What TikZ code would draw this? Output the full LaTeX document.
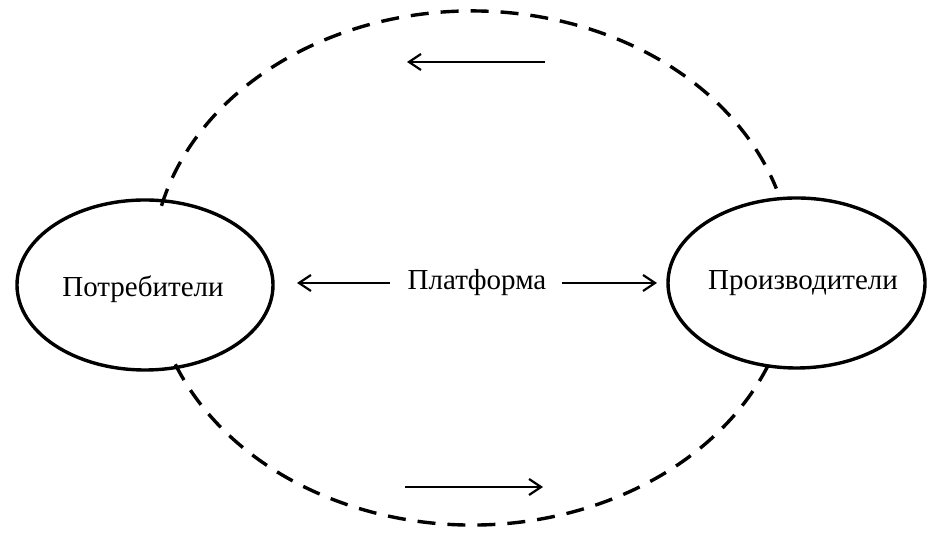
\documentclass[tikz,border=0pt]{standalone}
\usepackage{fontspec}
\setmainfont{Liberation Serif}
\usetikzlibrary{arrows.meta}
\begin{document}
\begin{tikzpicture}[x=0.5pt,y=0.5pt,
  flow/.style={line width=1.1pt,-{Straight Barb[length=6pt,width=8pt,line width=1.1pt]}},
  loopline/.style={line width=1.7pt,dash pattern=on 9pt off 6pt},
  ring/.style={line width=1.7pt},
  lbl/.style={font=\fontsize{14.5}{17}\selectfont}]
\useasboundingbox (0,0) rectangle (940,549);
\draw[ring] (145,264) ellipse [x radius=128, y radius=85];
\draw[ring] (796.5,266) ellipse [x radius=128.5, y radius=85];
\node[lbl] (cons) at (143,260) {Потребители};
\node[lbl] (prod) at (803,266) {Производители};
\node[lbl] (plat) at (477,266) {Платформа};
\coordinate (pl1) at (390,266);
\coordinate (pl2) at (297,266);
\coordinate (pr1) at (562,266);
\coordinate (pr2) at (657,266);
\draw[flow] (pl1) -- (pl2);
\draw[flow] (pr1) -- (pr2);
\coordinate (t1) at (545,487);
\coordinate (t2) at (407,487);
\coordinate (b1) at (405,62);
\coordinate (b2) at (543,62);
\draw[flow] (t1) -- (t2);
\draw[flow] (b1) -- (b2);
\draw[loopline] (472,281) ++(166:320 and 257) arc[start angle=166, end angle=18, x radius=320, y radius=257];
\draw[loopline] (472,281) ++(202:320 and 257) arc[start angle=202, end angle=337.5, x radius=320, y radius=257];
\end{tikzpicture}
\end{document}
